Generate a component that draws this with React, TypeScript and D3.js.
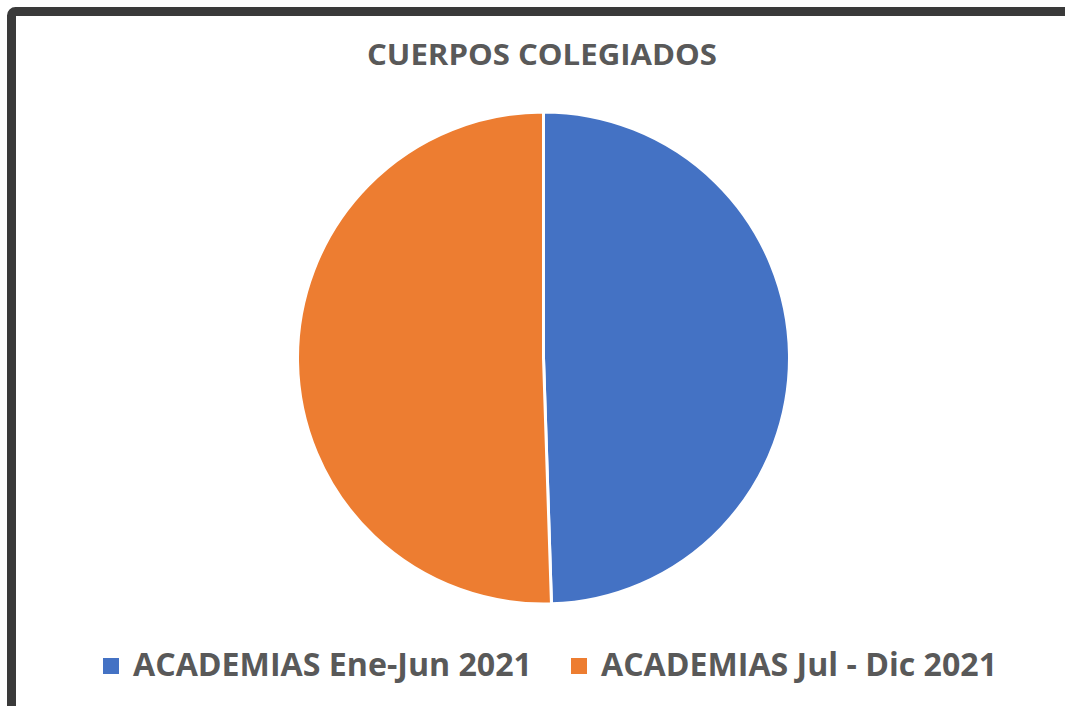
import React from "react";
import { pie, arc } from "d3";

// chart data
const categories = ["ACADEMIAS Ene-Jun 2021", "ACADEMIAS Jul - Dic 2021"];
const values = [48, 49];
const colors = ["#4472C4", "#ED7D31"];
const title = "CUERPOS COLEGIADOS";

const width = 1065;
const height = 706;
const cx = 543.5;
const cy = 358;
const radius = 246;

export default function App() {
  const data = categories.map((name, i) => ({ name, value: values[i] }));
  const slices = pie<{ name: string; value: number }>()
    .sort(null)
    .value((d) => d.value)(data);
  const arcGen = arc<any>().innerRadius(0).outerRadius(radius);

  const legendX = [103, 571];
  const legendW = [399, 396];

  return (
    <svg
      width={width}
      height={height}
      style={{ position: "absolute", left: 0, top: 0, background: "#fff" }}
    >
      <rect
        x={11.5}
        y={11.5}
        width={1200}
        height={900}
        rx={4}
        fill="#fff"
        stroke="#3a3a3a"
        strokeWidth={9}
      />
      <text
        x={542}
        y={65}
        textAnchor="middle"
        fontFamily="'Open Sans', sans-serif"
        fontWeight="bold"
        fontSize={28}
        fill="#595959"
        textLength={350}
        lengthAdjust="spacingAndGlyphs"
      >
        {title}
      </text>
      <g transform={`translate(${cx},${cy})`}>
        {slices.map((s, i) => (
          <path
            key={i}
            d={arcGen(s) as string}
            fill={colors[i]}
            stroke="#fff"
            strokeWidth={3}
          />
        ))}
      </g>
      <g>
        {categories.map((c, i) => (
          <g key={c}>
            <rect x={legendX[i]} y={658} width={16} height={16} fill={colors[i]} />
            <text
              x={legendX[i] + 30}
              y={676}
              fontFamily="'Open Sans', sans-serif"
              fontWeight="bold"
              fontSize={32}
              fill="#595959"
              textLength={legendW[i]}
              lengthAdjust="spacingAndGlyphs"
            >
              {c}
            </text>
          </g>
        ))}
      </g>
    </svg>
  );
}
